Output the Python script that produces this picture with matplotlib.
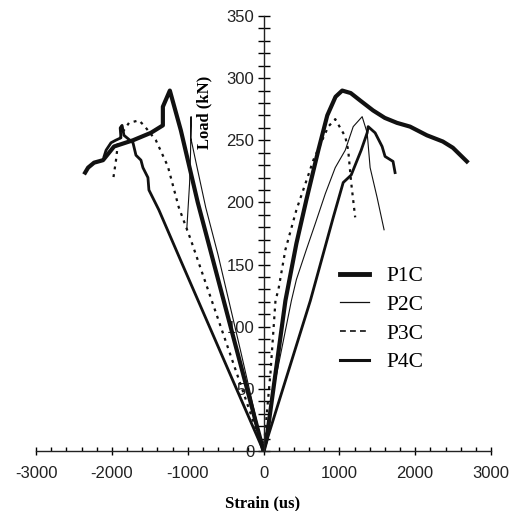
import matplotlib.pyplot as plt
from matplotlib.ticker import MultipleLocator

plt.rcParams["axes.unicode_minus"] = False

# strain (us) / load (kN), tension side and compression side of each specimen
p1c_tx = [0, 39, 289, 434, 565, 723, 841, 950, 1038, 1150, 1275, 1445, 1600, 1761, 1932, 2155, 2365, 2497, 2681]
p1c_ty = [0, 9, 121, 167, 202, 242, 270, 285, 290, 288, 282, 274, 268, 264, 261, 254, 249, 244, 233]
p1c_cx = [0, -434, -867, -1090, -1235, -1327, -1327, -1485, -1721, -1971, -2116, -2234, -2313, -2352]
p1c_cy = [0, 100, 200, 258, 290, 277, 262, 256, 250, 245, 234, 232, 228, 224]

p2c_tx = [0, 131, 368, 434, 565, 683, 815, 946, 1078, 1183, 1301, 1367, 1406, 1498, 1590]
p2c_ty = [0, 49, 121, 138, 162, 183, 207, 228, 242, 261, 269, 256, 228, 204, 178]
p2c_cx = [0, -300, -600, -762, -900, -959, -955, -962, -975, -1000, -1012]
p2c_cy = [0, 80, 158, 196, 235, 252, 269, 240, 215, 190, 178]

p3c_tx = [0, 92, 158, 197, 289, 434, 591, 657, 854, 946, 1078, 1117, 1156, 1209]
p3c_ty = [0, 63, 121, 130, 162, 194, 222, 234, 261, 267, 253, 242, 216, 188]
p3c_cx = [0, -564, -959, -1117, -1261, -1419, -1577, -1643, -1774, -1853, -1919, -1945, -1984]
p3c_cy = [0, 100, 170, 196, 229, 250, 262, 266, 264, 257, 248, 234, 218]

p4c_tx = [0, 618, 920, 1051, 1156, 1288, 1367, 1380, 1472, 1564, 1603, 1708, 1735]
p4c_ty = [0, 121, 188, 216, 222, 242, 256, 261, 256, 245, 237, 233, 224]
p4c_cx = [0, -1090, -1380, -1511, -1524, -1590, -1616, -1682, -1721, -1840, -1865, -1890, -1880, -1950, -2011, -2076, -2102]
p4c_cy = [0, 153, 194, 210, 220, 228, 234, 238, 248, 254, 262, 260, 252, 250, 248, 242, 237]

labels = ["P1C", "P2C", "P3C", "P4C"]

fig = plt.figure(figsize=(5.21, 5.11), dpi=100)
ax = fig.add_axes([36/521, 1-451/511, 455/521, 435/511])

k = "#111111"
styles = [dict(lw=3.0, ls="-"), dict(lw=0.8, ls="-"), dict(lw=1.6, ls=(0, (1.3, 2.2))), dict(lw=2.0, ls="-")]
series = [(p1c_tx, p1c_ty, p1c_cx, p1c_cy), (p2c_tx, p2c_ty, p2c_cx, p2c_cy),
          (p3c_tx, p3c_ty, p3c_cx, p3c_cy), (p4c_tx, p4c_ty, p4c_cx, p4c_cy)]
for (tx, ty, cx, cy), st, lab in zip(series, styles, labels):
    ax.plot(cx, cy, color=k, **st)
    ax.plot(tx, ty, color=k, **st)

# legend handles drawn with the look of the original key (P3C shown dashed)
hstyles = [dict(lw=3.5, ls="-"), dict(lw=0.9, ls="-"), dict(lw=1.2, ls=(0, (3.5, 2.5))), dict(lw=2.2, ls="-")]
handles = [plt.Line2D([], [], color=k, **st) for st in hstyles]

ax.set_xlim(-3000, 3000)
ax.set_ylim(0, 350)
ax.spines["top"].set_visible(False)
ax.spines["right"].set_visible(False)
ax.spines["left"].set_position(("data", 0))
for s in ["left", "bottom"]:
    ax.spines[s].set_linewidth(1.0)
    ax.spines[s].set_color("#222222")

ax.xaxis.set_major_locator(MultipleLocator(1000))
ax.xaxis.set_minor_locator(MultipleLocator(200))
ax.yaxis.set_major_locator(MultipleLocator(50))
ax.yaxis.set_minor_locator(MultipleLocator(10))
ax.tick_params(axis="x", which="major", direction="inout", length=6, width=1, pad=8)
ax.tick_params(axis="x", which="minor", direction="in", length=3, width=1)
ax.tick_params(axis="y", which="major", direction="inout", length=9, width=1, pad=2)
ax.tick_params(axis="y", which="minor", direction="inout", length=8, width=1)
for t in ax.get_xticklabels() + ax.get_yticklabels():
    t.set_fontfamily("Liberation Sans")
    t.set_fontsize(12)
    t.set_color("#222222")

ax.text(0.371, 0.779, "Load (kN)", transform=ax.transAxes, rotation=90, ha="center", va="center",
        fontfamily="Liberation Serif", fontweight="bold", fontsize=12)
fig.text(263/521, 1-503/511, "Strain (us)", ha="center", va="center",
         fontfamily="Liberation Serif", fontweight="bold", fontsize=12)

ax.legend(handles, labels, loc="upper left", bbox_to_anchor=(0.668, 0.425), frameon=False,
          borderaxespad=0, borderpad=0, handlelength=1.35, handletextpad=0.8, labelspacing=0.4,
          prop={"family": "Liberation Serif", "size": 15.5})

fig.savefig("out.png", dpi=100)
